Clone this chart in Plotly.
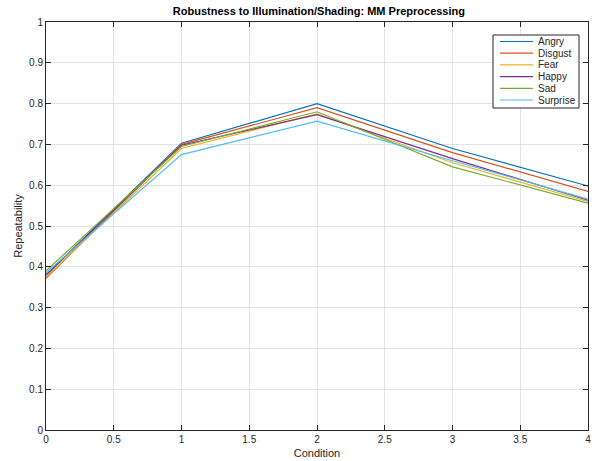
import plotly.graph_objects as go

conditions = [0, 1, 2, 3, 4]
names = ["Angry", "Disgust", "Fear", "Happy", "Sad", "Surprise"]
angry = [0.380, 0.703, 0.800, 0.690, 0.598]
disgust = [0.372, 0.700, 0.790, 0.680, 0.585]
fear = [0.375, 0.690, 0.775, 0.655, 0.560]
happy = [0.380, 0.698, 0.773, 0.665, 0.563]
sad = [0.390, 0.695, 0.780, 0.645, 0.556]
surprise = [0.385, 0.675, 0.757, 0.660, 0.566]
series = [angry, disgust, fear, happy, sad, surprise]
colors = ["#0072BD", "#D95319", "#EDB120", "#7E2F8E", "#77AC30", "#4DBEEE"]
xticks = [0, 0.5, 1, 1.5, 2, 2.5, 3, 3.5, 4]
xticklabels = ["0", "0.5", "1", "1.5", "2", "2.5", "3", "3.5", "4"]
yticks = [0, 0.1, 0.2, 0.3, 0.4, 0.5, 0.6, 0.7, 0.8, 0.9, 1]
yticklabels = ["0", "0.1", "0.2", "0.3", "0.4", "0.5", "0.6", "0.7", "0.8", "0.9", "1"]

W, H = 595, 461
L, R, T, B = 46, 7, 22, 31
PW, PH = W - L - R, H - T - B

def px(x):
    return (x - L) / PW

def py(y):
    return (H - B - y) / PH

fig = go.Figure()
for n, s, c in zip(names, series, colors):
    fig.add_trace(go.Scatter(x=conditions, y=s, mode="lines", name=n,
                             line=dict(color=c, width=1.2), showlegend=False))

font = "Liberation Sans, Arial, sans-serif"

# custom compact legend (MATLAB style)
shapes = [dict(type="rect", xref="paper", yref="paper",
               x0=px(493), x1=px(579), y0=py(108), y1=py(35),
               line=dict(color="#262626", width=1), fillcolor="white", layer="above")]
annotations = []
for i, (n, c) in enumerate(zip(names, colors)):
    yy = 41.5 + i * 11.7
    shapes.append(dict(type="line", xref="paper", yref="paper",
                       x0=px(500), x1=px(533), y0=py(yy), y1=py(yy),
                       line=dict(color=c, width=1.2), layer="above"))
    annotations.append(dict(text=n, xref="paper", yref="paper", x=px(536), y=py(yy),
                            xanchor="left", yanchor="middle", showarrow=False,
                            font=dict(family=font, size=10, color="#262626")))

axis_common = dict(showgrid=True, gridcolor="#e3e3e3", gridwidth=1,
                   showline=True, linecolor="#262626", linewidth=1, mirror="ticks",
                   ticks="inside", ticklen=5, tickcolor="#262626",
                   tickfont=dict(family=font, size=10, color="#262626"),
                   zeroline=False, automargin=False)
fig.update_layout(
    width=W, height=H,
    margin=dict(l=L, r=R, t=T, b=B),
    paper_bgcolor="white", plot_bgcolor="white",
    title=dict(text="<b>Robustness to Illumination/Shading: MM Preprocessing</b>",
               x=0.536, xanchor="center", y=1 - 11 / H, yanchor="middle",
               font=dict(family=font, size=11, color="black")),
    xaxis=dict(range=[0, 4], tickmode="array", tickvals=xticks, ticktext=xticklabels,
               title=dict(text="Condition", standoff=5, font=dict(family=font, size=11, color="#262626")),
               **axis_common),
    yaxis=dict(range=[0, 1], tickmode="array", tickvals=yticks, ticktext=yticklabels,
               title=dict(text="Repeatability", standoff=4, font=dict(family=font, size=11, color="#262626")),
               **axis_common),
    shapes=shapes, annotations=annotations,
    showlegend=False,
)
fig.write_html("out.html", config={"displayModeBar": False},
               post_script="document.body.style.margin='0';")
